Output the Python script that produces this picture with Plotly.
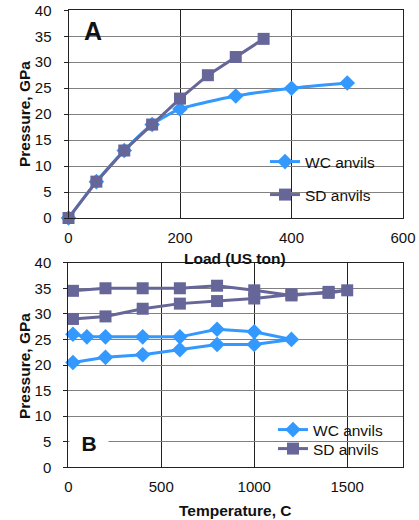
import plotly.graph_objects as go

# ---- Panel A data ----
a_wc_load = [0, 50, 100, 150, 200, 300, 400, 500]
a_wc_pres = [0, 7, 13, 18, 21, 23.5, 25, 26]
a_sd_load = [0, 50, 100, 150, 200, 250, 300, 350]
a_sd_pres = [0, 7, 13, 18, 23, 27.5, 31, 34.5]

# ---- Panel B data (heating then cooling) ----
b_wc_temp = [25, 200, 400, 600, 800, 1000, 1200, 1000, 800, 600, 400, 200, 100, 25]
b_wc_pres = [20.5, 21.5, 22, 23, 24, 24, 25, 26.5, 27, 25.5, 25.5, 25.5, 25.5, 26]
b_sd_temp = [25, 200, 400, 600, 800, 1000, 1200, 1400, 1500, 1400, 1200, 1000, 800, 600, 400, 200, 25]
b_sd_pres = [29, 29.5, 31, 32, 32.5, 33, 33.8, 34.1, 34.6, 34.3, 33.6, 34.6, 35.5, 35, 35, 35, 34.5]

WC = "#3399FF"
SD = "#666699"
FONT = "Liberation Sans, Arial, sans-serif"

W, H = 419, 520
def px(x): return x / W
def py(y): return 1 - y / H

fig = go.Figure()

fig.add_trace(go.Scatter(x=a_wc_load, y=a_wc_pres, name="WC anvils", mode="lines+markers",
                         line=dict(color=WC, width=3, shape="spline", smoothing=0.6),
                         marker=dict(symbol="diamond", size=12, color=WC),
                         xaxis="x", yaxis="y", legend="legend", showlegend=True, cliponaxis=False))
fig.add_trace(go.Scatter(x=a_sd_load, y=a_sd_pres, name="SD anvils", mode="lines+markers",
                         line=dict(color=SD, width=3),
                         marker=dict(symbol="square", size=12, color=SD),
                         xaxis="x", yaxis="y", legend="legend2", showlegend=True, cliponaxis=False))
fig.add_trace(go.Scatter(x=b_wc_temp, y=b_wc_pres, name="WC anvils", mode="lines+markers",
                         line=dict(color=WC, width=3),
                         marker=dict(symbol="diamond", size=12, color=WC),
                         xaxis="x2", yaxis="y2", legend="legend3", showlegend=True, cliponaxis=False))
fig.add_trace(go.Scatter(x=b_sd_temp, y=b_sd_pres, name="SD anvils", mode="lines+markers",
                         line=dict(color=SD, width=3),
                         marker=dict(symbol="square", size=12, color=SD),
                         xaxis="x2", yaxis="y2", legend="legend4", showlegend=True, cliponaxis=False))

axfont = dict(family=FONT, size=15, color="#111")
common_x = dict(showline=True, linecolor="#222", linewidth=1, mirror=True,
                showgrid=True, gridcolor="#222", gridwidth=1, zeroline=False,
                ticks="", tickfont=axfont, ticklabelstandoff=6)
common_y = dict(showline=True, linecolor="#222", linewidth=1, mirror=True,
                showgrid=True, gridcolor="#808080", gridwidth=1, zeroline=False,
                ticks="outside", ticklen=4, tickcolor="#222", tickfont=axfont,
                ticklabelstandoff=9, range=[0, 40], dtick=5)

def leg(xp, yp):
    return dict(x=px(xp), y=py(yp), xanchor="left", yanchor="middle", bgcolor="rgba(0,0,0,0)",
                font=dict(family=FONT, size=15.5, color="#111"), itemwidth=30,
                borderwidth=0, visible=True)

fig.update_layout(
    width=W, height=H,
    showlegend=True,
    margin=dict(l=0, r=0, t=0, b=0, autoexpand=False),
    paper_bgcolor="white", plot_bgcolor="white",
    font=dict(family=FONT, size=15, color="#111"),
    xaxis=dict(domain=[px(68.5), px(403)], range=[0, 600], dtick=200, anchor="y", **common_x),
    yaxis=dict(domain=[py(218), py(10.3)], anchor="x", **common_y),
    xaxis2=dict(domain=[px(68.3), px(403)], range=[0, 1800], dtick=500, anchor="y2", **common_x),
    yaxis2=dict(domain=[py(467.3), py(262.7)], anchor="x2", **common_y),
    legend=leg(265, 162),
    legend2=leg(265, 195),
    legend3=leg(273, 430),
    legend4=leg(273, 449),
    annotations=[
        dict(text="<b>A</b>", x=px(92.5), y=py(31), xref="paper", yref="paper", showarrow=False,
             font=dict(family=FONT, size=25, color="#111"), xanchor="center", yanchor="middle"),
        dict(text="<b>B</b>", x=px(89), y=py(443), xref="paper", yref="paper", showarrow=False,
             font=dict(family=FONT, size=21, color="#111"), xanchor="center", yanchor="middle",
             bgcolor="white", width=38, borderpad=0),
        dict(text="<b>Pressure, GPa</b>", x=px(24), y=py(114), xref="paper", yref="paper",
             xanchor="center", yanchor="middle",
             showarrow=False, textangle=-90, font=dict(family=FONT, size=15.5, color="#111")),
        dict(text="<b>Pressure, GPa</b>", x=px(24), y=py(366), xref="paper", yref="paper",
             xanchor="center", yanchor="middle",
             showarrow=False, textangle=-90, font=dict(family=FONT, size=15.5, color="#111")),
        dict(text="<b>Load (US ton)</b>", x=px(235), y=py(258), xref="paper", yref="paper",
             xanchor="center", yanchor="middle",
             showarrow=False, font=dict(family=FONT, size=15.5, color="#111")),
        dict(text="<b>Temperature, C</b>", x=px(235), y=py(510), xref="paper", yref="paper",
             xanchor="center", yanchor="middle",
             showarrow=False, font=dict(family=FONT, size=15.5, color="#111")),
    ],
)

fig.write_html("out.html", config={"displayModeBar": False},
               post_script="document.body.style.margin='0';document.body.style.overflow='hidden';")
